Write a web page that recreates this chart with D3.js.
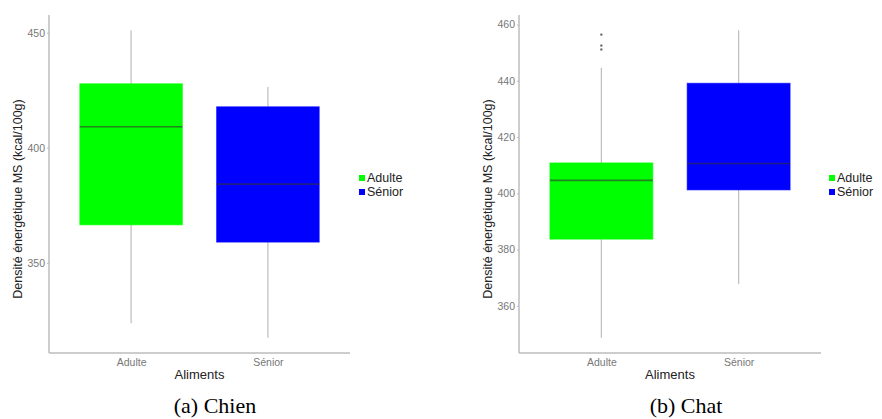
<!DOCTYPE html>
<html><head><meta charset="utf-8">
<script src="https://cdn.jsdelivr.net/npm/d3@7"></script>
<style>body{margin:0;background:#fff}svg{display:block}</style>
</head><body>
<svg id="c" width="882" height="419"></svg>
<script>
const categories = ["Adulte", "Sénior"];
const colors = ["#00ff00", "#0000ff"];
// Chien: [whiskerLow, Q1, median, Q3, whiskerHigh]
const chienStats = [
  [323.8, 366.5, 409.1, 427.8, 451.0],
  [317.5, 359.0, 384.2, 417.8, 426.4]
];
const chienOutliers = [[], []];
const chienTicks = [350, 400, 450];
// Chat
const chatStats = [
  [348.7, 383.7, 404.6, 410.8, 444.6],
  [367.8, 401.2, 410.6, 439.1, 457.9]
];
const chatOutliers = [[451.1, 452.5, 456.4], []];
const chatTicks = [360, 380, 400, 420, 440, 460];
const yTitle = "Densité énergétique MS (kcal/100g)";
const xTitle = "Aliments";
const captions = ["(a) Chien", "(b) Chat"];

const svg = d3.select("#c");
const SANS = "Liberation Sans, Arial, sans-serif";

function panel(opts) {
  const {x0, x1, y0, y1, stats, outliers, ticks, caption, capX, titleX, legX} = opts;
  const g = svg.append("g");
  let lo = d3.min(stats, s => s[0]), hi = d3.max(stats, s => s[4]);
  outliers.forEach(o => o.forEach(v => { lo = Math.min(lo, v); hi = Math.max(hi, v); }));
  const pad = (hi - lo) * 0.05;
  const y = d3.scaleLinear().domain([lo - pad, hi + pad]).range([y1, y0]);
  const xl = d3.scaleLinear().domain([0.4, 2.6]).range([x0, x1]);
  const bw = xl(1.375) - xl(1);

  categories.forEach((c, i) => {
    const s = stats[i], cx = xl(i + 1);
    g.append("line").attr("x1", cx).attr("x2", cx).attr("y1", y(s[0])).attr("y2", y(s[1]))
      .attr("stroke", "#bdbdbd").attr("stroke-width", 1.2);
    g.append("line").attr("x1", cx).attr("x2", cx).attr("y1", y(s[3])).attr("y2", y(s[4]))
      .attr("stroke", "#bdbdbd").attr("stroke-width", 1.2);
    g.append("rect").attr("x", cx - bw).attr("width", 2 * bw)
      .attr("y", y(s[3])).attr("height", y(s[1]) - y(s[3]))
      .attr("fill", colors[i]).attr("stroke", colors[i]).attr("stroke-opacity", 0.6).attr("stroke-width", 1);
    g.append("line").attr("x1", cx - bw).attr("x2", cx + bw).attr("y1", y(s[2])).attr("y2", y(s[2]))
      .attr("stroke", "#333").attr("stroke-opacity", 0.6).attr("stroke-width", 1.6);
    outliers[i].forEach(v => {
      g.append("rect").attr("x", cx - 1).attr("y", y(v) - 1).attr("width", 2).attr("height", 2)
        .attr("fill", "#555");
    });
  });

  const ya = g.append("g").attr("transform", `translate(${x0},0)`)
    .call(d3.axisLeft(y).tickValues(ticks).tickSize(2).tickPadding(2));
  ya.select(".domain").attr("stroke", "#bdbdbd").attr("stroke-width", 1.5).attr("d", `M0,${y0}V${y1}`);
  ya.selectAll(".tick line").attr("stroke", "#bdbdbd");
  ya.selectAll(".tick text").attr("fill", "#777").attr("font-size", 10.5).attr("font-family", SANS);

  const xa = g.append("g").attr("transform", `translate(0,${y1})`)
    .call(d3.axisBottom(xl).tickValues([1, 2]).tickFormat(d => categories[d - 1]).tickSize(0).tickPadding(6));
  xa.select(".domain").attr("stroke", "#bdbdbd").attr("stroke-width", 1.5).attr("d", `M${x0},0H${x1}`);
  xa.selectAll(".tick text").attr("fill", "#777").attr("font-size", 10.5).attr("font-family", SANS);

  g.append("text").attr("x", (x0 + x1) / 2).attr("y", y1 + 26).attr("text-anchor", "middle")
    .attr("font-size", 13).attr("fill", "#222").attr("font-family", SANS).text(xTitle);
  g.append("text").attr("transform", `translate(${titleX},${(y0 + y1) / 2 + 15}) rotate(-90)`)
    .attr("text-anchor", "middle").attr("font-size", 12.5).attr("fill", "#222")
    .attr("font-family", SANS).text(yTitle);

  categories.forEach((c, i) => {
    g.append("rect").attr("x", legX).attr("y", 175 + i * 14).attr("width", 6).attr("height", 6).attr("fill", colors[i]);
    g.append("text").attr("x", legX + 8).attr("y", 182 + i * 14).attr("font-size", 12.5)
      .attr("fill", "#222").attr("font-family", SANS).text(c);
  });

  svg.append("text").attr("x", capX).attr("y", 413).attr("text-anchor", "middle")
    .attr("font-size", 22).attr("font-family", "Liberation Serif, Times New Roman, serif").attr("fill", "#000").text(caption);
}

panel({x0: 49, x1: 350, y0: 15, y1: 353, stats: chienStats, outliers: chienOutliers, ticks: chienTicks,
  caption: captions[0], capX: 215, titleX: 22, legX: 359});
panel({x0: 519, x1: 821, y0: 15, y1: 353, stats: chatStats, outliers: chatOutliers, ticks: chatTicks,
  caption: captions[1], capX: 686, titleX: 492, legX: 829});
</script>
</body></html>
